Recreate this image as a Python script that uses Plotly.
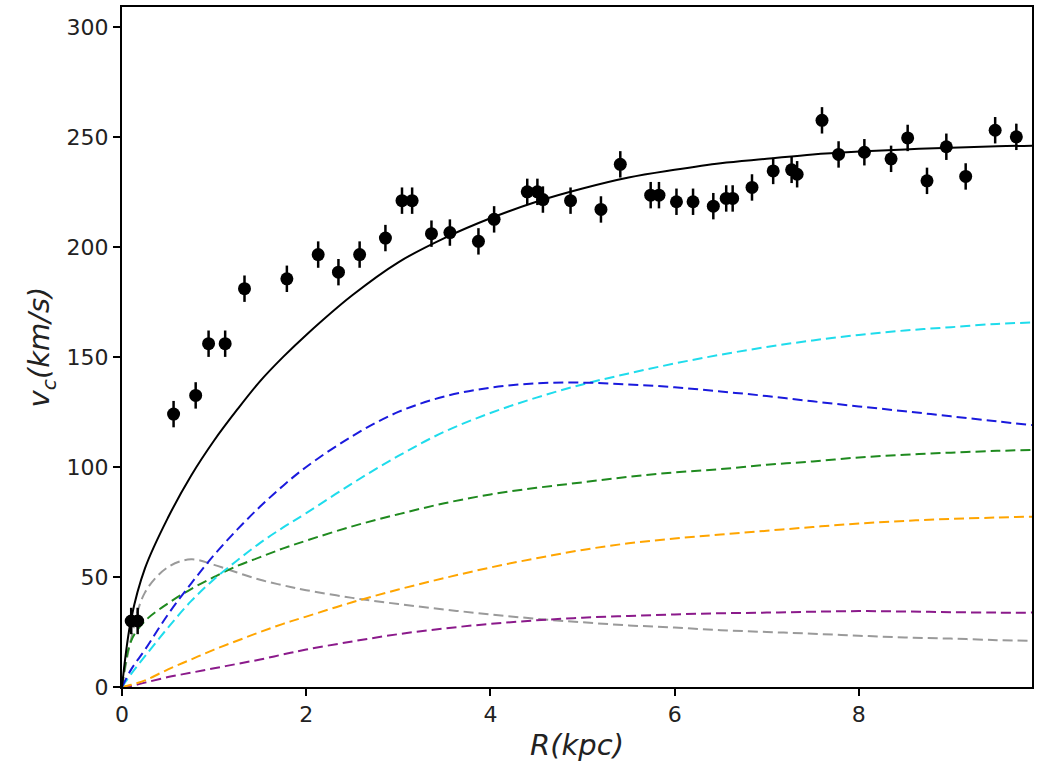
import plotly.graph_objects as go

# Observed rotation curve
R_obs = [0.10, 0.17, 0.56, 0.80, 0.94, 1.12, 1.33, 1.79, 2.13, 2.35, 2.58, 2.86,
         3.04, 3.15, 3.36, 3.56, 3.87, 4.04, 4.40, 4.51, 4.57, 4.87, 5.20, 5.41,
         5.74, 5.83, 6.02, 6.20, 6.42, 6.56, 6.63, 6.84, 7.07, 7.27, 7.33, 7.60,
         7.78, 8.06, 8.35, 8.53, 8.74, 8.95, 9.16, 9.48, 9.71]
V_obs = [30, 30, 124, 132.5, 156, 156, 181, 185.5, 196.5, 188.5, 196.5, 204,
         221, 221, 206, 206.5, 202.5, 212.5, 225, 225, 221.5, 221, 217, 237.5,
         223.5, 223.5, 220.5, 220.5, 218.5, 222, 222, 227, 234.5, 235, 233, 257.5,
         242, 243, 240, 249.5, 230, 245.5, 232, 253, 250]
V_err = [6] * len(R_obs)

# Model components
R_mod = [0, 0.1, 0.25, 0.5, 0.75, 1.0, 1.25, 1.5, 1.75, 2.0, 2.5, 3.0, 3.5, 4.0,
         4.5, 5.0, 5.5, 6.0, 6.5, 7.0, 7.5, 8.0, 8.5, 9.0, 9.5, 9.88]
V_total = [0, 31, 54, 77, 96, 112, 126, 139, 150, 160, 178, 193, 204, 213,
           220.5, 226.5, 231.5, 235, 238, 240, 242, 243.3, 244.3, 245, 245.7, 246]
V_blue = [0, 8, 17, 33, 47, 60, 71.5, 82, 91.5, 100, 114, 125, 132, 136,
          138, 138.3, 137.5, 136.2, 134.3, 132.2, 129.8, 127.5, 125.3, 123, 120.7, 119]
V_cyan = [0, 6, 14, 27, 39, 49, 57.5, 65.5, 72.5, 79, 92.5, 105, 116, 124.5,
          131.5, 137.5, 142.5, 147, 151, 154.5, 157.5, 160, 162, 163.5, 165, 165.6]
V_green = [0, 21, 30, 38, 44.5, 50, 55, 59, 63, 66.5, 73, 78.5, 83.5, 87.5,
           90.5, 93, 95.5, 97.5, 99, 101, 102.5, 104.3, 105.5, 106.5, 107.3, 107.7]
V_gray = [0, 22, 43, 54.5, 58, 55.5, 52, 48.7, 46.2, 44, 40.5, 37.7, 35.2, 33,
          31, 29.4, 28, 27, 25.8, 25, 24.2, 23.3, 22.5, 22, 21.3, 21]
V_orange = [0, 1, 3, 8, 12.5, 17, 21, 25, 28.7, 32, 38.5, 44.3, 49.5, 54.3,
            58.5, 62.3, 65.3, 67.5, 69.3, 71, 72.7, 74.3, 75.5, 76.4, 77, 77.4]
V_purple = [0, 0.5, 2, 4.5, 6.5, 8.5, 10.5, 12.5, 14.8, 17, 20.7, 24, 26.6, 28.7,
            30.3, 31.5, 32.3, 33, 33.5, 33.8, 34.2, 34.5, 34.3, 34, 33.8, 33.8]

fig = go.Figure()

dashed = [
    (V_gray, "#9a9a9a"),
    (V_purple, "#8b1a8b"),
    (V_orange, "#ffa500"),
    (V_green, "#1f8a1f"),
    (V_cyan, "#1fdcec"),
    (V_blue, "#1a1add"),
]
for vals, col in dashed:
    fig.add_trace(go.Scatter(
        x=R_mod, y=vals, mode="lines",
        line=dict(color=col, width=2, dash="10px,5px", shape="spline", smoothing=1.0),
        showlegend=False, hoverinfo="skip"))

fig.add_trace(go.Scatter(
    x=R_mod, y=V_total, mode="lines",
    line=dict(color="black", width=2, shape="spline", smoothing=1.0),
    showlegend=False))

fig.add_trace(go.Scatter(
    x=R_obs, y=V_obs, mode="markers",
    marker=dict(color="black", size=13),
    error_y=dict(type="data", array=V_err, color="black", thickness=2.5, width=0),
    showlegend=False))

tick_font = dict(family="DejaVu Sans", size=22, color="#222222")
title_font = dict(family="DejaVu Sans", size=29, color="#222222")

fig.update_layout(
    width=1041, height=765,
    margin=dict(l=122, r=9, t=5, b=78),
    plot_bgcolor="white", paper_bgcolor="white",
    font=dict(family="DejaVu Sans", size=20, color="#222222"),
    xaxis=dict(
        range=[0, 9.88], tickvals=[0, 2, 4, 6, 8], ticks="outside", ticklen=7,
        tickwidth=1.5, tickcolor="black", showline=True, mirror=True,
        linecolor="black", linewidth=2, showgrid=False, zeroline=False,
        tickfont=tick_font,
        title=dict(text="<i>R(kpc)</i>", standoff=8, font=title_font),
    ),
    yaxis=dict(
        range=[0, 309], tickvals=[0, 50, 100, 150, 200, 250, 300], ticks="outside",
        ticklen=7, tickwidth=1.5, tickcolor="black", showline=True, mirror=True,
        linecolor="black", linewidth=2, showgrid=False, zeroline=False,
        tickfont=tick_font,
        title=dict(text="<i>v<sub>c</sub>(km/s)</i>", standoff=8, font=title_font),
    ),
)

fig.write_html("out.html")
